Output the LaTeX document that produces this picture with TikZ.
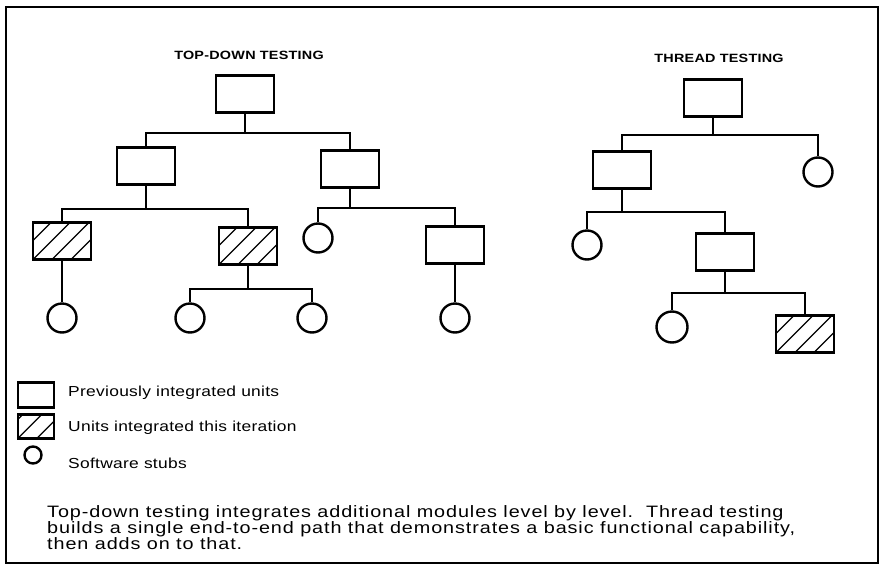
\documentclass[tikz,border=0pt]{standalone}
\usepackage{fontspec}
\setmainfont{Liberation Sans}[FakeStretch=1.2]
\usetikzlibrary{positioning,calc}

\begin{document}
\begin{tikzpicture}[x=1pt, y=-1pt]

\tikzset{
  unit/.style={
    rectangle, draw, line width=2.8pt,
    minimum width=58pt, minimum height=37pt, inner sep=0pt
  },
  newunit/.style={
    unit,
    path picture={
      \foreach \k in {-3,...,3}
        \draw[line width=1.3pt]
          ($(path picture bounding box.south west)+(\k*19pt,0)$) -- ++(45:90pt);
    }
  },
  stub/.style={circle, draw, line width=2.4pt, minimum size=29pt, inner sep=0pt},
  link/.style={line width=2.4pt},
  title/.style={font=\bfseries\fontsize{12}{14}\selectfont\addfontfeature{LetterSpace=2}},
  keytext/.style={anchor=west, inner sep=0pt,
    font=\fontsize{14.5}{16}\selectfont\addfontfeature{LetterSpace=2}}
}

\useasboundingbox (0,0) rectangle (884,576);
\draw[line width=2.8pt] (6,7) rectangle (878,563);

% ==========================
% Left tree: top-down testing
% ==========================
\node[title] (tdTitle) at (249,55) {TOP-DOWN TESTING};

\node[unit] (td0) at (245,94) {};
\node[unit] (td1) at (146,166) {};
\node[unit] (td2) at (350,169) {};
\node[newunit] (td3) at (62,241) {};
\node[newunit] (td4) at (248,246) {};
\node[stub] (td5) at (318,238) {};
\node[unit] (td6) at (455,245) {};
\node[stub] (td7) at (62,318) {};
\node[stub] (td8) at (190,318) {};
\node[stub] (td9) at (312,318) {};
\node[stub] (td10) at (455,318) {};

\draw[link] (td0.south) -- ++(0,19) -| (td1.north);
\draw[link] (td0.south) -- ++(0,19) -| (td2.north);
\draw[link] (td1.south) -- ++(0,23) -| (td3.north);
\draw[link] (td1.south) -- ++(0,23) -| (td4.north);
\draw[link] (td2.south) -- ++(0,19) -| (td5.north);
\draw[link] (td2.south) -- ++(0,19) -| (td6.north);
\draw[link] (td3.south) -- (td7.north);
\draw[link] (td4.south) -- ++(0,23) -| (td8.north);
\draw[link] (td4.south) -- ++(0,23) -| (td9.north);
\draw[link] (td6.south) -- (td10.north);

% ==========================
% Right tree: thread testing
% ==========================
\node[title] (thTitle) at (719,58) {THREAD TESTING};

\node[unit] (th0) at (713,98) {};
\node[unit] (th1) at (622,170) {};
\node[stub] (th2) at (818,172) {};
\node[stub] (th3) at (587,245) {};
\node[unit] (th4) at (725,252) {};
\node[stub, minimum size=31pt] (th5) at (672,327) {};
\node[newunit] (th6) at (805,334) {};

\draw[link] (th0.south) -- ++(0,17) -| (th1.north);
\draw[link] (th0.south) -- ++(0,17) -| (th2.north);
\draw[link] (th1.south) -- ++(0,22) -| (th3.north);
\draw[link] (th1.south) -- ++(0,22) -| (th4.north);
\draw[link] (th4.south) -- ++(0,21) -| (th5.north);
\draw[link] (th4.south) -- ++(0,21) -| (th6.north);

% ==========================
% Key
% ==========================
\node[unit, minimum width=36pt, minimum height=25pt] (keyOld) at (36,395) {};
\node[newunit, minimum width=36pt, minimum height=24pt, below=4pt of keyOld] (keyNew) {};
\node[stub, minimum size=17pt] (keyStub) at (33,455) {};

\node[keytext] (keyOldText) at (68,393) {Previously integrated units};
\node[keytext] (keyNewText) at (68,428) {Units integrated this iteration};
\node[keytext] (keyStubText) at (68,463) {Software stubs};

% ==========================
% Caption
% ==========================
\node[anchor=west, align=left, inner sep=0pt,
      font=\fontsize{16.5}{16}\selectfont\addfontfeature{LetterSpace=5.5}] (caption) at (47,528)
{Top-down testing integrates additional modules level by level.\ \ Thread testing\\
builds a single end-to-end path that demonstrates a basic functional capability,\\
then adds on to that.};

\end{tikzpicture}
\end{document}
